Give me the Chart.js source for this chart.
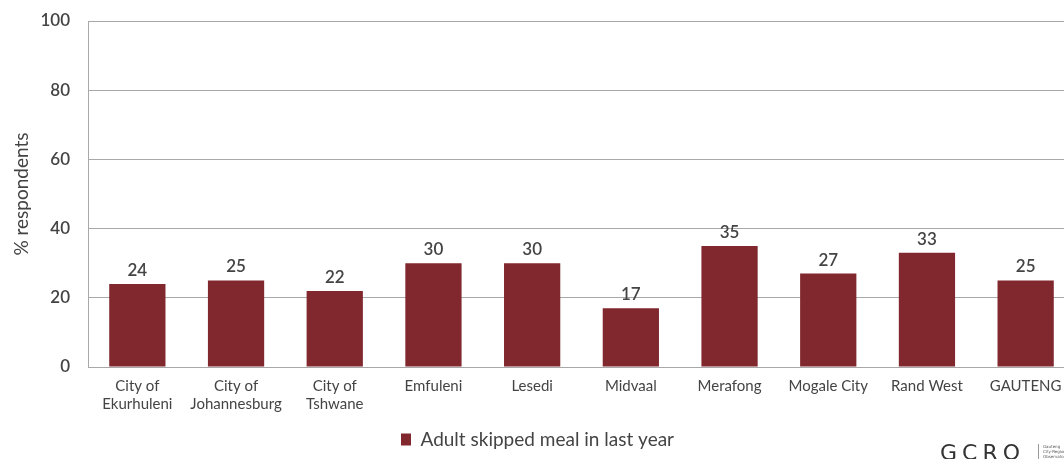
<!DOCTYPE html>
<html lang="en">
<head>
    <meta charset="UTF-8">
    <title>Adult skipped meal in last year</title>
    <script src="https://cdn.jsdelivr.net/npm/chart.js"></script>
    <style>
        html, body {
            margin: 0;
            padding: 0;
            background: #fff;
            overflow: hidden;
            width: 1064px;
            height: 459px;
        }
        .chart-wrap {
            position: relative;
            width: 1080px;
            height: 459px;
        }
        .logo {
            position: absolute;
            left: 940px;
            top: 440px;
            font-family: "DejaVu Sans", sans-serif;
            font-size: 22px;
            letter-spacing: 5px;
            color: #333;
        }
        .logo-sub {
            position: absolute;
            left: 1038px;
            top: 444px;
            border-left: 1px solid #999;
            padding-left: 4px;
            font-family: "DejaVu Sans", sans-serif;
            font-size: 4px;
            line-height: 5px;
            color: #555;
        }
    </style>
</head>
<body>
    <div class="chart-wrap">
        <canvas id="mealChart"></canvas>
    </div>
    <div class="logo">GCRO</div>
    <div class="logo-sub">Gauteng<br>City-Region<br>Observatory</div>

    <script>
        const categories = [
            ['City of', 'Ekurhuleni'],
            ['City of', 'Johannesburg'],
            ['City of', 'Tshwane'],
            'Emfuleni',
            'Lesedi',
            'Midvaal',
            'Merafong',
            'Mogale City',
            'Rand West',
            'GAUTENG'
        ];
        const skippedMeal = [24, 25, 22, 30, 30, 17, 35, 27, 33, 25];
        const yTicks = [0, 20, 40, 60, 80, 100];

        const barColor = '#80282e';
        const textColor = '#444444';
        const gridColor = '#a8a8a8';

        // draw value labels above bars
        const valueLabels = {
            id: 'valueLabels',
            afterDatasetsDraw(chart) {
                const ctx = chart.ctx;
                const meta = chart.getDatasetMeta(0);
                ctx.save();
                ctx.font = '600 17px Lato';
                ctx.fillStyle = textColor;
                ctx.textAlign = 'center';
                ctx.textBaseline = 'bottom';
                meta.data.forEach((bar, i) => {
                    ctx.fillText(skippedMeal[i], bar.x, bar.y - 5);
                });
                ctx.restore();
            }
        };

        const ctx = document.getElementById('mealChart').getContext('2d');
        new Chart(ctx, {
            type: 'bar',
            data: {
                labels: categories,
                datasets: [{
                    label: 'Adult skipped meal in last year',
                    data: skippedMeal,
                    backgroundColor: barColor,
                    categoryPercentage: 1.0,
                    barPercentage: 0.57
                }]
            },
            options: {
                responsive: true,
                maintainAspectRatio: false,
                animation: false,
                layout: {
                    padding: { top: 21, right: 5, bottom: 0, left: 0 }
                },
                plugins: {
                    legend: {
                        position: 'bottom',
                        labels: {
                            boxWidth: 10,
                            boxHeight: 12,
                            padding: 7,
                            color: textColor,
                            font: { family: 'Lato', size: 19 }
                        }
                    },
                    tooltip: { enabled: false }
                },
                scales: {
                    x: {
                        grid: { display: false, drawTicks: false },
                        border: { color: gridColor, width: 1 },
                        ticks: {
                            padding: 10,
                            color: textColor,
                            maxRotation: 0,
                            autoSkip: false,
                            font: { family: 'Lato', size: 15, lineHeight: 1.2 }
                        }
                    },
                    y: {
                        min: 0,
                        max: 100,
                        afterBuildTicks(scale) {
                            scale.ticks = yTicks.map(v => ({ value: v }));
                        },
                        afterFit(scale) {
                            scale.width = 88;
                            scale.paddingTop = 0;
                            scale.paddingBottom = 0;
                        },
                        grid: { color: gridColor, lineWidth: 1, drawTicks: false },
                        border: { color: gridColor, width: 1 },
                        ticks: {
                            padding: 18,
                            color: textColor,
                            font: { family: 'Lato', size: 17, weight: '600' }
                        },
                        title: {
                            display: true,
                            text: '% respondents',
                            color: textColor,
                            padding: { top: 10, bottom: 0 },
                            font: { family: 'Lato', size: 19 }
                        }
                    }
                }
            },
            plugins: [valueLabels]
        });
    </script>
</body>
</html>
